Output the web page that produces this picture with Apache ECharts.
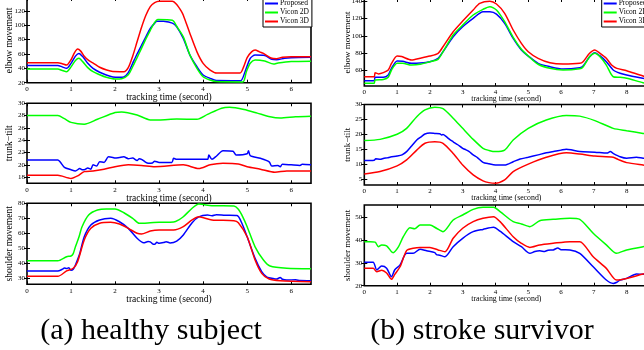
<!DOCTYPE html>
<html>
<head>
<meta charset="utf-8">
<script src="https://cdn.jsdelivr.net/npm/echarts@6/dist/echarts.min.js"></script>
<style>
  html, body { margin: 0; padding: 0; background: #fff; }
  #chart { width: 644px; height: 350px; }
</style>
</head>
<body>
<div id="chart"></div>
<script>
// series names
const seriesNames = ['Proposed', 'Vicon 2D', 'Vicon 3D'];

// tick labels
const xTicksHealthy = [0, 1, 2, 3, 4, 5, 6];
const xTicksStroke = [0, 1, 2, 3, 4, 5, 6, 7, 8];
const elbowTicksA = [20, 40, 60, 80, 100, 120, 140];
const trunkTicksA = [18, 20, 22, 24, 26, 28, 30];
const shoulderTicksA = [30, 40, 50, 60, 70, 80];
const elbowTicksB = [60, 80, 100, 120, 140];
const trunkTicksB = [5, 10, 15, 20, 25, 30];
const shoulderTicksB = [20, 30, 40, 50];

// (a) healthy subject — [time, value]
const healthyElbowProposed = [[0,44.1],[0.7,44.1],[0.8,42],[0.9,40],[1.0,47],[1.1,57],[1.18,60.8],[1.27,56],[1.38,47],[1.5,40],[1.65,34.5],[1.8,30.7],[1.95,28],[2.1,27.5],[2.2,28],[2.3,34],[2.4,47],[2.5,60],[2.6,72],[2.7,84],[2.8,95.5],[2.9,103],[2.95,105.7],[3.1,105.5],[3.3,103],[3.4,97.8],[3.55,81.7],[3.7,58.5],[3.86,42.2],[4.0,30.7],[4.16,26],[4.3,23],[4.85,22.8],[4.95,35],[5.07,53.9],[5.18,58.5],[5.4,58],[5.56,52.5],[5.67,52],[5.85,54],[6.0,54.8],[6.45,55.3]];
const healthyElbowVicon2D = [[0,39],[0.7,39],[0.8,37],[0.9,35.3],[1.0,42],[1.1,51],[1.18,53.9],[1.27,49],[1.38,41],[1.5,35.3],[1.65,31],[1.8,27.5],[2.0,25.1],[2.15,25.5],[2.3,31],[2.4,42.2],[2.5,55],[2.6,67.8],[2.7,81],[2.8,93],[2.9,104],[2.97,108],[3.3,107],[3.4,98.6],[3.55,83.9],[3.7,58.5],[3.86,40],[4.0,28.3],[4.16,23.7],[4.3,21.5],[4.9,21],[4.98,35],[5.07,47],[5.18,51.5],[5.4,50.1],[5.6,46],[5.7,47.4],[6.0,49.5],[6.45,50]];
const healthyElbowVicon3D = [[0,47.8],[0.7,47.8],[0.8,46.5],[0.9,44.6],[1.0,52],[1.08,62],[1.15,66.8],[1.22,64],[1.3,57],[1.4,51],[1.51,47],[1.65,41.5],[1.81,37.6],[1.95,35.5],[2.2,35.3],[2.3,41],[2.4,57],[2.5,77],[2.6,97],[2.7,114],[2.8,126],[2.9,131.5],[3.0,133.5],[3.3,133.5],[3.4,129],[3.5,120],[3.55,114],[3.7,88.6],[3.86,63],[4.0,47],[4.16,37.6],[4.31,33.5],[4.84,33.5],[4.92,42],[5.0,55],[5.1,63],[5.18,65.4],[5.28,63],[5.37,60.8],[5.56,54],[5.67,53.5],[5.8,55.5],[6.0,56],[6.45,56]];

const healthyTrunkProposed = [[0,20.8],[0.7,20.8],[0.75,20.5],[0.85,19.6],[1.0,19.2],[1.1,19.0],[1.2,19.4],[1.25,19.2],[1.3,19.2],[1.38,19.5],[1.45,19.3],[1.5,20.0],[1.58,19.8],[1.65,20.5],[1.75,20.4],[1.85,21.3],[1.95,21.2],[2.0,21.1],[2.1,21.2],[2.2,21.3],[2.3,21.0],[2.4,21.1],[2.5,20.7],[2.55,21.0],[2.6,20.9],[2.7,20.4],[2.75,20.25],[2.85,20.3],[2.9,20.6],[3.0,20.4],[3.29,20.4],[3.33,21.06],[3.4,20.9],[4.1,20.9],[4.13,21.6],[4.2,20.9],[4.3,21.4],[4.45,22.3],[4.68,22.2],[4.75,21.6],[5.0,21.8],[5.03,22.3],[5.07,21.5],[5.3,21.06],[5.5,20.5],[5.56,19.8],[5.7,19.9],[5.75,19.7],[5.8,20.1],[6.0,20.0],[6.2,19.9],[6.25,20.1],[6.45,20.0]];
const healthyTrunkVicon2D = [[0,28.0],[0.7,28.0],[0.85,27.5],[1.0,26.9],[1.3,26.6],[1.6,27.4],[2.0,28.5],[2.15,28.6],[2.5,28.1],[2.8,27.3],[3.0,27.3],[3.4,27.45],[3.86,27.4],[4.1,28.2],[4.42,29.2],[4.6,29.35],[4.93,29.0],[5.23,28.4],[5.52,27.8],[5.75,27.6],[6.1,27.8],[6.45,27.9]];
const healthyTrunkVicon3D = [[0,18.3],[0.7,18.3],[1.0,17.8],[1.15,18.2],[1.3,18.9],[1.5,19.0],[1.75,19.3],[2.0,19.7],[2.3,20.0],[2.6,19.9],[2.9,19.7],[3.55,20.0],[3.9,19.4],[4.16,20.0],[4.45,20.25],[4.8,20.15],[5.0,19.7],[5.3,19.3],[5.63,18.8],[5.9,19.0],[6.45,19.0]];

const healthyShoulderProposed = [[0,34.9],[0.7,34.9],[0.8,36.0],[0.85,36.8],[0.9,36.5],[0.95,37],[1.0,35.3],[1.05,36],[1.1,38.9],[1.2,46.7],[1.3,57.7],[1.45,65.5],[1.65,68.9],[1.9,70],[2.1,67.7],[2.3,63.3],[2.5,56.7],[2.65,53.7],[2.75,54.5],[2.8,54.3],[2.85,53],[2.9,52.7],[2.95,54],[3.0,53.3],[3.1,53.8],[3.16,54.4],[3.25,53.6],[3.4,54.8],[3.55,58.9],[3.75,67.1],[3.9,71],[4.1,72.2],[4.2,71.7],[4.3,72.4],[4.5,72],[4.77,71.8],[4.88,66.7],[5.0,57.7],[5.18,43.3],[5.33,34.4],[5.45,30.7],[5.6,29.8],[5.67,29.5],[5.75,30.5],[5.8,29.4],[5.9,28.9],[6.1,29],[6.2,28.5],[6.45,28.4]];
const healthyShoulderVicon2D = [[0,41.7],[0.7,41.7],[0.9,44.4],[1.0,44.9],[1.05,46.5],[1.1,51],[1.18,57.5],[1.25,64.4],[1.4,72.2],[1.6,75.5],[1.8,76.2],[2.0,76.2],[2.2,73.7],[2.4,70],[2.55,66.7],[2.8,67],[3.0,67.3],[3.33,67.5],[3.45,69],[3.55,71],[3.75,76.7],[3.9,79.5],[4.2,78.4],[4.7,78.2],[4.8,76],[4.9,71],[5.0,64.4],[5.18,51],[5.37,42.2],[5.52,38.2],[5.9,36.7],[6.45,36.4]];
const healthyShoulderVicon3D = [[0,31.3],[0.7,31.3],[0.9,34.9],[1.05,36.7],[1.15,41.1],[1.3,55.5],[1.45,63.3],[1.65,66.7],[1.9,67.3],[2.1,66.2],[2.3,63.3],[2.5,60],[2.6,59.5],[2.8,61.5],[3.0,62.2],[3.33,62.2],[3.55,64.4],[3.75,68.9],[3.9,71],[4.2,68.9],[4.7,68.4],[4.8,67],[5.0,57.7],[5.18,42.2],[5.33,33.3],[5.5,29.5],[5.75,28.4],[6.45,27.7]];

// (b) stroke survivor — [time, value]
const strokeElbowProposed = [[0,48.1],[0.3,48.1],[0.33,52],[0.58,52],[0.73,54.7],[0.83,62.4],[1.0,70.9],[1.17,70.5],[1.44,68.2],[1.7,68.5],[2.0,70.1],[2.25,74],[2.4,81.6],[2.71,98.9],[3.0,110.5],[3.32,120.2],[3.62,127.8],[3.83,127.8],[4.03,125.1],[4.28,114.4],[4.54,97],[4.79,83.6],[5.0,76.6],[5.3,68.2],[5.66,64.3],[6.06,61.6],[6.57,63.1],[6.67,65],[6.87,75.8],[7.03,80.5],[7.18,77],[7.38,70.1],[7.59,60.5],[7.8,56.7],[8.0,54.7],[8.5,50.9],[8.66,49.8]];
const strokeElbowVicon2D = [[0,45.1],[0.3,45.1],[0.33,48.9],[0.58,49.5],[0.73,52],[0.83,60.5],[1.0,68.2],[1.17,68.2],[1.44,66.2],[1.7,67],[2.0,70.1],[2.25,72.8],[2.4,81.6],[2.71,100.9],[3.0,112.4],[3.32,124],[3.62,130.6],[3.83,133.6],[4.03,129.8],[4.28,116.3],[4.54,98.2],[4.79,84.4],[5.0,76.6],[5.3,67.1],[5.66,62.4],[6.06,60.5],[6.57,61.9],[6.67,64],[6.87,75.8],[7.03,79.8],[7.18,76],[7.38,66.2],[7.59,52.7],[7.8,52],[8.0,50.9],[8.5,45.8],[8.66,44.8]];
const strokeElbowVicon3D = [[0,52.7],[0.3,52.7],[0.33,57.4],[0.43,56],[0.58,57.4],[0.73,60.5],[0.83,68.2],[1.0,76.6],[1.14,76],[1.44,72],[1.7,74],[2.0,76.6],[2.25,79.8],[2.4,87.4],[2.71,104.7],[3.0,117],[3.32,129.8],[3.52,137.5],[3.83,140],[4.03,136.7],[4.28,126],[4.54,106.7],[4.79,91.3],[5.0,81.6],[5.3,74],[5.66,68.9],[6.06,67.4],[6.57,68.2],[6.67,70],[6.87,79.8],[7.03,83.6],[7.18,80],[7.38,74],[7.54,66.2],[7.7,62.4],[8.0,59.7],[8.5,53.5],[8.66,52.5]];

const strokeTrunkProposed = [[0,11.2],[0.3,11.3],[0.35,11.8],[0.48,11.6],[0.6,12.0],[0.7,12.1],[0.8,12.4],[1.0,12.7],[1.15,13.1],[1.29,14.2],[1.45,16.2],[1.6,18.1],[1.75,19.3],[1.85,20.1],[2.0,20.4],[2.15,20.3],[2.3,20.2],[2.35,19.8],[2.4,19.9],[2.5,19.2],[2.6,18.3],[2.71,17.5],[2.85,16.5],[3.0,15.3],[3.1,14.8],[3.2,14.2],[3.32,13.1],[3.45,12.2],[3.62,10.6],[3.8,10.1],[4.0,9.7],[4.28,9.7],[4.54,10.8],[4.75,11.7],[5.0,12.3],[5.3,13.1],[5.55,13.8],[5.8,14.3],[6.0,14.7],[6.16,15.0],[6.3,14.8],[6.57,14.2],[7.03,14.0],[7.4,13.7],[7.5,14.2],[7.59,13.6],[7.8,12.5],[8.0,12.0],[8.3,12.3],[8.5,12.0],[8.66,11.9]];
const strokeTrunkVicon2D = [[0,17.9],[0.48,18.3],[1.0,20.0],[1.29,22.0],[1.6,25.9],[1.85,28.2],[2.15,29.1],[2.4,28.6],[2.71,25.4],[3.0,22.0],[3.32,18.3],[3.62,15.3],[3.8,14.6],[4.0,14.2],[4.28,14.7],[4.54,18.1],[5.0,22.0],[5.55,24.8],[6.16,26.3],[6.57,26.1],[7.03,24.6],[7.59,22.0],[8.0,21.2],[8.5,20.3],[8.66,20.0]];
const strokeTrunkVicon3D = [[0,6.7],[0.48,7.5],[1.0,9.4],[1.29,11.4],[1.6,14.7],[1.85,17.0],[2.15,17.5],[2.4,17.0],[2.71,13.6],[3.0,9.7],[3.32,6.4],[3.62,4.4],[3.8,3.8],[4.0,3.6],[4.28,4.7],[4.54,7.5],[5.0,10.0],[5.55,12.3],[6.16,13.8],[6.57,13.4],[7.03,12.7],[7.59,12.3],[7.75,11.5],[8.0,10.5],[8.5,9.7],[8.66,9.5]];

const strokeShoulderProposed = [[0,30.3],[0.27,30.3],[0.38,26.9],[0.53,28.6],[0.68,27.7],[0.83,23.9],[0.93,27],[1.09,29.1],[1.29,34.2],[1.49,34.2],[1.7,36],[1.9,35.3],[2.15,34.5],[2.2,33.6],[2.3,33.4],[2.46,32.7],[2.71,37.1],[3.0,40.8],[3.32,43.7],[3.62,44.7],[3.94,45.6],[4.14,43.9],[4.54,39.3],[4.79,37.1],[5.05,34.2],[5.2,35.0],[5.35,35.3],[5.5,35.0],[5.6,35.6],[5.76,35.7],[5.9,36.5],[6.0,35.8],[6.27,35.7],[6.57,34.2],[6.98,28.3],[7.38,22.5],[7.59,21],[7.7,21.5],[7.8,22.5],[8.0,23.2],[8.3,25.1],[8.5,25],[8.66,25.4]];
const strokeShoulderVicon2D = [[0,39.3],[0.17,39.3],[0.33,39.1],[0.43,37.1],[0.53,37.9],[0.68,37.5],[0.83,34.9],[0.88,34.5],[1.04,37],[1.19,41.5],[1.39,45.4],[1.54,45],[1.7,46.6],[2.0,46.6],[2.2,45.2],[2.4,43.7],[2.71,48.8],[3.0,51],[3.32,53.5],[3.62,54.4],[3.94,54.4],[4.14,52.5],[4.54,48.1],[4.79,47.1],[5.05,45.9],[5.35,48.5],[5.76,49.1],[6.27,49.6],[6.57,49.1],[6.98,43],[7.38,37.9],[7.69,34.2],[8.0,35.7],[8.5,37.1],[8.66,37.4]];
const strokeShoulderVicon3D = [[0,27.6],[0.27,27.6],[0.38,26.1],[0.53,26.8],[0.68,25.6],[0.83,22.8],[0.93,25],[1.09,28.3],[1.29,35.4],[1.49,36.4],[1.7,36.8],[2.0,36.8],[2.25,35.7],[2.46,34.9],[2.71,40.8],[3.0,45.2],[3.32,48.1],[3.62,49.6],[3.94,50.3],[4.14,48.1],[4.54,41.5],[4.79,38.6],[5.05,36.8],[5.35,37.9],[5.76,38.6],[6.27,39.3],[6.57,39.3],[6.98,32.7],[7.38,27.6],[7.69,22.5],[8.0,23.2],[8.5,25.1],[8.66,25.6]];

const colors = ['#0000ff', '#00ff00', '#ff0000'];
const serif = '"Liberation Serif", "Times New Roman", serif';

// one entry per subplot: layout + which arrays it draws
const panels = [
  { rect: { left: 27, top: -2, width: 284, height: 84.7 }, xMax: 6.45, xTicks: xTicksHealthy, yMin: 20, yMax: 138, yTicks: elbowTicksA, yName: 'elbow movement', lines: [healthyElbowProposed, healthyElbowVicon2D, healthyElbowVicon3D], wide: true },
  { rect: { left: 27, top: 103.3, width: 284, height: 80 }, xMax: 6.45, xTicks: xTicksHealthy, yMin: 17, yMax: 30, yTicks: trunkTicksA, yName: 'trunk−tilt', lines: [healthyTrunkProposed, healthyTrunkVicon2D, healthyTrunkVicon3D], wide: true },
  { rect: { left: 27, top: 203.3, width: 284, height: 81 }, xMax: 6.45, xTicks: xTicksHealthy, yMin: 26, yMax: 80, yTicks: shoulderTicksA, yName: 'shoulder movement', lines: [healthyShoulderProposed, healthyShoulderVicon2D, healthyShoulderVicon3D], wide: true },
  { rect: { left: 364.3, top: -1, width: 284, height: 87 }, xMax: 8.66, xTicks: xTicksStroke, yMin: 42, yMax: 142.5, yTicks: elbowTicksB, yName: 'elbow movement', lines: [strokeElbowProposed, strokeElbowVicon2D, strokeElbowVicon3D], wide: false },
  { rect: { left: 364.3, top: 104.5, width: 284, height: 80.5 }, xMax: 8.66, xTicks: xTicksStroke, yMin: 3, yMax: 30, yTicks: trunkTicksB, yName: 'trunk−tilt', lines: [strokeTrunkProposed, strokeTrunkVicon2D, strokeTrunkVicon3D], wide: false },
  { rect: { left: 364.3, top: 205, width: 284, height: 80.7 }, xMax: 8.66, xTicks: xTicksStroke, yMin: 20, yMax: 55.4, yTicks: shoulderTicksB, yName: 'shoulder movement', lines: [strokeShoulderProposed, strokeShoulderVicon2D, strokeShoulderVicon3D], wide: false }
];

const grid = [], xAxis = [], yAxis = [], series = [];
const tickStyle = { lineStyle: { color: '#000', width: 1 } };

panels.forEach((p, i) => {
  grid.push(Object.assign({ show: true, borderColor: '#000', borderWidth: 1.6, backgroundColor: '#fff', outerBoundsMode: 'none', containLabel: false }, p.rect));
  const xBase = { gridIndex: i, type: 'value', min: 0, max: p.xMax, splitLine: { show: false }, axisLine: { show: false } };
  xAxis.push(Object.assign({}, xBase, {
    position: 'bottom',
    axisTick: Object.assign({ inside: true, length: 3, customValues: p.xTicks }, tickStyle),
    axisLabel: { customValues: p.xTicks, fontSize: 7, fontFamily: serif, color: '#000', margin: 3 },
    name: 'tracking time (second)', nameLocation: 'middle', nameGap: p.wide ? 10 : 9, nameMoveOverlap: false,
    nameTextStyle: { fontSize: p.wide ? 9.5 : 7.8, fontFamily: serif, color: '#000' }
  }));
  xAxis.push(Object.assign({}, xBase, {
    position: 'top',
    axisTick: Object.assign({ inside: true, length: 3, customValues: p.xTicks }, tickStyle),
    axisLabel: { show: false }
  }));
  const yBase = { gridIndex: i, type: 'value', min: p.yMin, max: p.yMax, splitLine: { show: false }, axisLine: { show: false } };
  yAxis.push(Object.assign({}, yBase, {
    position: 'left',
    axisTick: Object.assign({ inside: true, length: 3, customValues: p.yTicks }, tickStyle),
    axisLabel: { customValues: p.yTicks, fontSize: 7, fontFamily: serif, color: '#000', margin: 2 },
    name: p.yName, nameLocation: 'middle', nameGap: p.wide ? 13 : 12.5, nameMoveOverlap: false,
    nameTextStyle: { fontSize: p.wide ? 9.5 : 9, fontFamily: serif, color: '#000' }
  }));
  yAxis.push(Object.assign({}, yBase, {
    position: 'right',
    axisTick: Object.assign({ inside: true, length: 3, customValues: p.yTicks }, tickStyle),
    axisLabel: { show: false }
  }));
  p.lines.forEach((d, k) => {
    series.push({
      name: seriesNames[k], type: 'line', data: d,
      xAxisIndex: 2 * i, yAxisIndex: 2 * i,
      symbol: 'none', smooth: 0.25, clip: true,
      lineStyle: { color: colors[k], width: 1.5 },
      itemStyle: { color: colors[k] }
    });
  });
});

const legendBase = {
  data: seriesNames, orient: 'vertical', top: -2,
  backgroundColor: '#fff', borderColor: '#000', borderWidth: 1,
  padding: [1, 3, 1, 2], itemGap: 0, itemWidth: 13, itemHeight: 2, icon: 'rect',
  selectedMode: false,
  textStyle: { fontSize: 7.5, fontFamily: serif, color: '#000', lineHeight: 9, padding: [0, 0, 0, -3] }
};

const chart = echarts.init(document.getElementById('chart'), null, { renderer: 'canvas' });
chart.setOption({
  animation: false,
  color: colors,
  grid, xAxis, yAxis, series,
  legend: [
    Object.assign({}, legendBase, { left: 263 }),
    Object.assign({}, legendBase, { left: 601.7 })
  ],
  graphic: [
    { type: 'text', x: 151, y: 331, style: { text: '(a) healthy subject', font: '30px "Liberation Serif"', fill: '#000', align: 'center', verticalAlign: 'middle' } },
    { type: 'text', x: 482, y: 331, style: { text: '(b) stroke survivor', font: '30px "Liberation Serif"', fill: '#000', align: 'center', verticalAlign: 'middle' } }
  ]
});
</script>
</body>
</html>
